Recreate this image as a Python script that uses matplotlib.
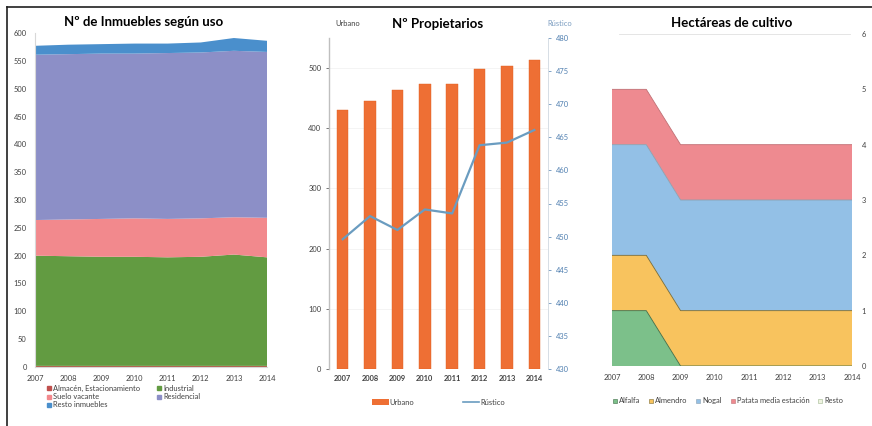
import matplotlib
matplotlib.use("Agg")
import matplotlib.pyplot as plt
from matplotlib.patches import Patch
from matplotlib.lines import Line2D
import numpy as np

plt.rcParams['font.family'] = ['Lato', 'DejaVu Sans']

years = [2007, 2008, 2009, 2010, 2011, 2012, 2013, 2014]
year_labels = [str(y) for y in years]

# Panel 1: Nº de Inmuebles según uso (stacked areas)
almacen = [2, 2, 2, 2, 2, 2, 2, 2]
industrial = [198, 197, 196, 196, 195, 196, 200, 195]
suelo_vacante = [64, 66, 68, 69, 69, 69, 67, 71]
residencial = [297, 297, 297, 296, 298, 298, 299, 298]
resto_inm = [16, 17, 17, 18, 17, 18, 23, 20]

# Panel 2: Nº Propietarios
urbano = [430, 445, 463, 474, 474, 499, 504, 514]
rustico = [449.6, 453.1, 451.0, 454.1, 453.5, 463.8, 464.2, 466.1]

# Panel 3: Hectáreas de cultivo
alfalfa = [1, 1, 0, 0, 0, 0, 0, 0]
almendro = [1, 1, 1, 1, 1, 1, 1, 1]
nogal = [2, 2, 2, 2, 2, 2, 2, 2]
patata = [1, 1, 1, 1, 1, 1, 1, 1]
resto_cult = [0, 0, 0, 0, 0, 0, 0, 0]

W, H = 872, 426
fig = plt.figure(figsize=(W / 100, H / 100), dpi=100)

def ax_px(x0, y0, x1, y1):
    return fig.add_axes([x0 / W, (H - y1) / H, (x1 - x0) / W, (y1 - y0) / H])

tick_color = '#404040'
fs = 5.4
title_fs = 9.5

# ---------------- Panel 1 ----------------
ax1 = ax_px(35, 33, 267, 367)
c1 = ['#B0604A', '#629B41', '#F2898D', '#8C8FC7', '#4A8FCC']
labels1 = ['Almacén, Estacionamiento', 'Industrial', 'Suelo vacante', 'Residencial', 'Resto inmuebles']
ax1.stackplot(years, almacen, industrial, suelo_vacante, residencial, resto_inm,
              colors=c1, linewidth=0)
ax1.set_xlim(2007, 2014)
ax1.set_ylim(0, 600)
ax1.set_yticks(range(0, 601, 50))
ax1.set_xticks(years)
ax1.set_xticklabels(year_labels)
ax1.tick_params(labelsize=fs, colors=tick_color, length=0, pad=6)
for s in ['top', 'right']:
    ax1.spines[s].set_visible(False)
for s in ['left', 'bottom']:
    ax1.spines[s].set_color('#d8d8d8')
ax1.set_title('Nº de Inmuebles según uso', fontsize=title_fs, fontweight='bold', pad=5, x=0.47)
h1 = [Line2D([], [], marker='s', linestyle='', color=c, markersize=3) for c in c1]
h1[0] = Line2D([], [], marker='s', linestyle='', color='#C0504D', markersize=3)
order = [0, 2, 4, 1, 3]
leg1 = ax1.legend([h1[i] for i in order], [labels1[i] for i in order], ncol=2,
                  loc='upper left', bbox_to_anchor=(0.03, -0.045), frameon=False,
                  fontsize=fs, handletextpad=0.1, columnspacing=2.0, labelspacing=0.15,
                  handlelength=1.0, borderaxespad=0)
for t in leg1.get_texts():
    t.set_color(tick_color)

# ---------------- Panel 2 ----------------
ax2 = ax_px(329, 38, 548, 369)
x = np.arange(len(years))
ax2.bar(x, urbano, width=0.42, color='#EE6F34', edgecolor='#E06020', linewidth=0.3, zorder=2)
ax2.set_xlim(-0.5, len(years) - 0.5)
ax2.set_ylim(0, 550)
ax2.set_yticks(range(0, 501, 100))
ax2.set_xticks(x)
ax2.set_xticklabels(year_labels, fontweight='bold')
ax2.tick_params(axis='y', labelsize=fs, colors=tick_color, length=2, width=0.5)
ax2.tick_params(axis='x', labelsize=fs, colors=tick_color, length=0, pad=4)
ax2.grid(axis='y', color='#f0f0f0', linewidth=0.5, zorder=0)
for s in ['top', 'right', 'bottom']:
    ax2.spines[s].set_visible(False)
ax2.spines['left'].set_color('#bfbfbf')
ax2.spines['left'].set_linewidth(1.0)

ax2r = ax2.twinx()
ax2r.plot(x, rustico, color='#6A9CC0', linewidth=1.6, zorder=3)
ax2r.set_ylim(430, 480)
ax2r.set_yticks(range(430, 481, 5))
ax2r.tick_params(axis='y', labelsize=fs, colors='#4F7FB0', length=2, width=0.5)
for s in ['top', 'left', 'bottom']:
    ax2r.spines[s].set_visible(False)
ax2r.spines['right'].set_color('#d0d8e0')
ax2r.spines['right'].set_linewidth(0.6)

fig.text(335 / W, 1 - 24 / H, 'Urbano', fontsize=fs, color=tick_color, ha='left', va='center')
fig.text(560 / W, 1 - 24 / H, 'Rústico', fontsize=fs, color='#7A9CC0', ha='center', va='center')
fig.text(438 / W, 1 - 24 / H, 'Nº Propietarios', fontsize=title_fs, fontweight='bold',
         ha='center', va='center')
h2 = [Patch(facecolor='#EE6F34', edgecolor='none'),
      Line2D([], [], color='#6A9CC0', linewidth=1.2)]
leg2 = ax2.legend(h2, ['Urbano', 'Rústico'], ncol=2, loc='center',
                  bbox_to_anchor=(0.5, -0.1), frameon=False, fontsize=fs,
                  handlelength=2.2, handleheight=0.7, handletextpad=0.1,
                  columnspacing=6.5, borderaxespad=0)
for t in leg2.get_texts():
    t.set_color(tick_color)

# ---------------- Panel 3 ----------------
ax3 = ax_px(612, 34, 852, 366)
c3 = ['#7CC08A', '#F8C35E', '#93C0E6', '#EE8A90', '#EEF3E0']
labels3 = ['Alfalfa', 'Almendro', 'Nogal', 'Patata media estación', 'Resto']
edge3 = ['#3d6b45', '#7a6a30', '#8aa0b0', '#c07075', '#a0b890']
ax3.stackplot(years, alfalfa, almendro, nogal, patata, resto_cult, colors=c3, linewidth=0)
cum = np.zeros(len(years))
for vals, ec in zip([alfalfa, almendro, nogal, patata], edge3):
    cum = cum + np.array(vals)
    ax3.plot(years, cum, color=ec, linewidth=0.6)
ax3.set_xlim(2007, 2014)
ax3.set_ylim(0, 6)
ax3.set_yticks(range(0, 7))
ax3.set_xticks(years)
ax3.set_xticklabels(year_labels)
ax3.yaxis.tick_right()
ax3.tick_params(labelsize=fs, colors=tick_color, length=0, pad=7)
ax3.tick_params(axis='x', pad=6)
for s in ['top', 'right', 'left', 'bottom']:
    ax3.spines[s].set_visible(False)
ax3.axhline(6, xmin=0.03, xmax=0.99, color='#e0e0e0', linewidth=0.6)
ax3.set_title('Hectáreas de cultivo', fontsize=title_fs, fontweight='bold', pad=5, x=0.5)
h3 = [Line2D([], [], marker='s', linestyle='', markerfacecolor=c, markeredgecolor=e,
             markeredgewidth=0.4, markersize=3) for c, e in zip(c3, edge3)]
leg3 = ax3.legend(h3, labels3, ncol=5, loc='center', bbox_to_anchor=(0.48, -0.105),
                  frameon=False, fontsize=fs, handletextpad=0.05, columnspacing=0.9,
                  handlelength=1.0, borderaxespad=0)
for t in leg3.get_texts():
    t.set_color(tick_color)

# frame lines
fig.add_artist(Line2D([7 / W, 1], [1 - 7 / H, 1 - 7 / H], color='#202020', linewidth=1.2))
fig.add_artist(Line2D([7 / W, 7 / W], [0, 1 - 7 / H], color='#202020', linewidth=1.2))

fig.savefig('out.png', dpi=100, facecolor='white')
